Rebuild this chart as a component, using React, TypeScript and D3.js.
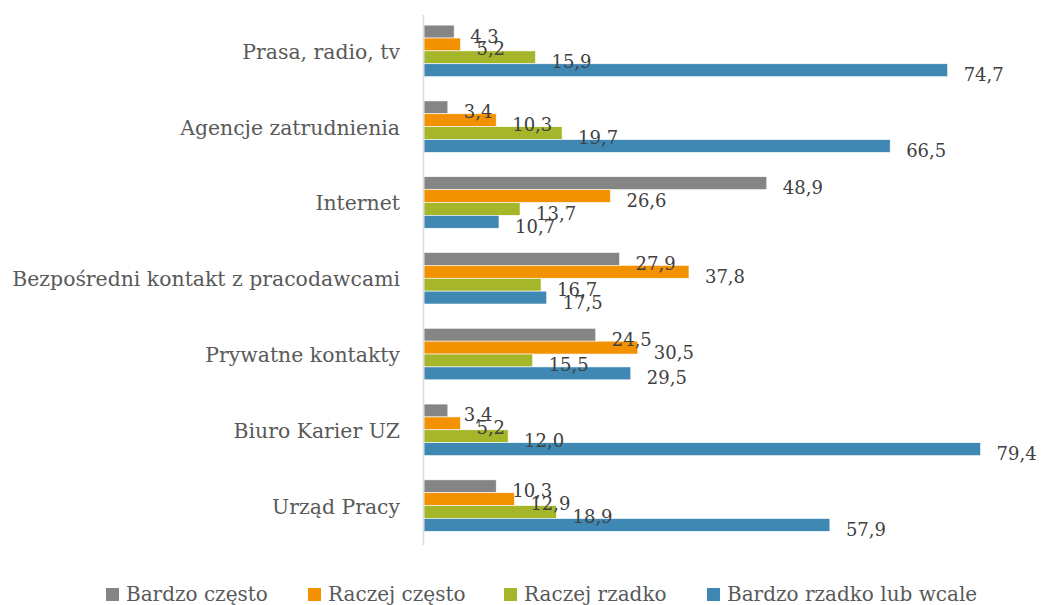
import React from "react";
import * as d3 from "d3";

const categories = [
  "Prasa, radio, tv",
  "Agencje zatrudnienia",
  "Internet",
  "Bezpośredni kontakt z pracodawcami",
  "Prywatne kontakty",
  "Biuro Karier UZ",
  "Urząd Pracy",
];
const seriesNames = ["Bardzo często", "Raczej często", "Raczej rzadko", "Bardzo rzadko lub wcale"];
const bardzoCzesto = [4.3, 3.4, 48.9, 27.9, 24.5, 3.4, 10.3];
const raczejCzesto = [5.2, 10.3, 26.6, 37.8, 30.5, 5.2, 12.9];
const raczejRzadko = [15.9, 19.7, 13.7, 16.7, 15.5, 12.0, 18.9];
const bardzoRzadko = [74.7, 66.5, 10.7, 17.5, 29.5, 79.4, 57.9];
const seriesValues = [bardzoCzesto, raczejCzesto, raczejRzadko, bardzoRzadko];
const colors = ["#858585", "#f39200", "#a6b62b", "#3f88b4"];

const W = 1043;
const H = 605;
const FONT = "'DejaVu Serif', serif";

export default function App() {
  const x = d3.scaleLinear().domain([0, 80]).range([424, 424 + 80 * 7.01]);
  const y = d3
    .scaleBand<string>()
    .domain(categories)
    .range([13, 543.5])
    .paddingInner(0.32)
    .paddingOuter(0.16);
  const inner = d3
    .scaleBand<string>()
    .domain(seriesNames)
    .range([0, y.bandwidth()])
    .padding(0);
  const fmt = (v: number) => d3.format(".1f")(v).replace(".", ",");

  const legendX = [106, 308, 504, 707];

  return (
    <svg
      width={W}
      height={H}
      style={{ position: "absolute", left: 0, top: 0, background: "#fff" }}
      fontFamily={FONT}
    >
      <rect x={0} y={0} width={W} height={H} fill="#fff" />
      {categories.map((c, ci) => {
        const gy = y(c)!;
        return (
          <g key={c}>
            <text
              x={400}
              y={gy + y.bandwidth() / 2 + 1}
              textAnchor="end"
              dominantBaseline="central"
              fontSize={20.4}
              fill="#595959"
            >
              {c}
            </text>
            {seriesNames.map((s, si) => {
              const v = seriesValues[si][ci];
              const by = gy + inner(s)!;
              return (
                <rect
                  key={s}
                  x={x(0)}
                  y={by}
                  width={x(v) - x(0)}
                  height={inner.bandwidth()}
                  fill={colors[si]}
                  stroke="#ffffff"
                  strokeWidth={0.6}
                />
              );
            })}
          </g>
        );
      })}
      <line x1={423.5} x2={423.5} y1={15} y2={545} stroke="#d9d9d9" strokeWidth={1.5} />
      {categories.map((c, ci) => {
        const gy = y(c)!;
        return (
          <g key={c + "-labels"}>
            {seriesNames.map((s, si) => {
              const v = seriesValues[si][ci];
              const cy = gy + inner(s)! + inner.bandwidth() / 2;
              return (
                <text key={s} x={x(v) + 16} y={cy + 11} fontSize={18} fill="#404040">
                  {fmt(v)}
                </text>
              );
            })}
          </g>
        );
      })}
      {seriesNames.map((s, si) => (
        <g key={s + "-legend"}>
          <rect x={legendX[si]} y={588} width={13} height={13} fill={colors[si]} />
          <text x={legendX[si] + 20} y={601} fontSize={20} fill="#595959">
            {s}
          </text>
        </g>
      ))}
    </svg>
  );
}
